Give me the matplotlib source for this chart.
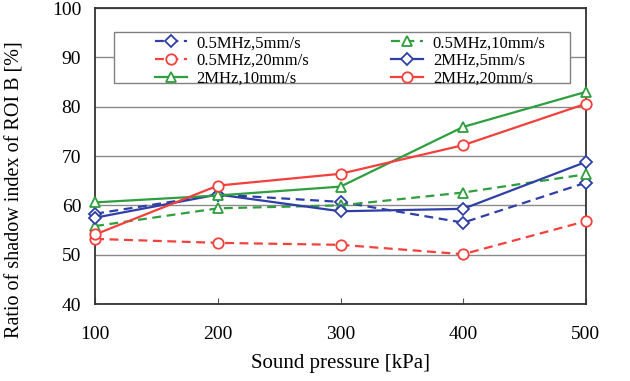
import numpy as np
import matplotlib
matplotlib.use("Agg")
import matplotlib.pyplot as plt
from matplotlib.patches import Rectangle

plt.rcParams['font.family'] = ['Liberation Serif', 'DejaVu Serif']

pressure = [100, 200, 300, 400, 500]

# 0.5MHz series (dashed)
mhz05_5 = [58.3, 62.2, 60.7, 56.5, 64.6]
mhz05_10 = [55.8, 59.4, 60.0, 62.6, 66.3]
mhz05_20 = [53.2, 52.4, 52.0, 50.1, 56.8]
# 2MHz series (solid)
mhz2_5 = [57.5, 62.2, 58.8, 59.3, 68.8]
mhz2_10 = [60.6, 62.0, 63.8, 75.9, 83.0]
mhz2_20 = [54.1, 64.0, 66.4, 72.2, 80.6]

labels = ["0.5MHz,5mm/s", "0.5MHz,10mm/s", "0.5MHz,20mm/s",
          "2MHz,5mm/s", "2MHz,10mm/s", "2MHz,20mm/s"]

blue = '#2f3fa6'
green = '#2e9e3e'
red = '#f2403c'

fig = plt.figure(figsize=(6.3, 3.81), dpi=100)
ax = fig.add_axes([0.151, 0.202, 0.779, 0.777])

mk = dict(markersize=7.5, markerfacecolor='white', markeredgewidth=1.3, lw=1.6, clip_on=False, zorder=4)
l1, = ax.plot(pressure, mhz05_5, ls=(0, (4, 2.5)), marker='D', color=blue, **dict(mk, markersize=6.5))
l2, = ax.plot(pressure, mhz05_10, ls=(0, (4, 2.5)), marker='^', color=green, **mk)
l3, = ax.plot(pressure, mhz05_20, ls=(0, (4, 2.5)), marker='o', color=red, **mk)
l4, = ax.plot(pressure, mhz2_5, ls='-', marker='D', color=blue, **dict(mk, markersize=6.5))
l5, = ax.plot(pressure, mhz2_10, ls='-', marker='^', color=green, **mk)
l6, = ax.plot(pressure, mhz2_20, ls='-', marker='o', color=red, **mk)

ax.set_xlim(100, 500)
ax.set_ylim(40, 100)
ax.set_xticks(pressure)
ax.set_yticks(np.arange(40, 101, 10))
ax.yaxis.grid(True, color='#8a8a8a', lw=1.0)
ax.set_axisbelow(True)
ax.tick_params(axis='x', direction='in', length=4, pad=16, labelsize=14, color='#555555')
ax.tick_params(axis='y', direction='in', length=0, pad=10, labelsize=14)
for s in ax.spines.values():
    s.set_color('#333333')
    s.set_linewidth(1.3)

ax.set_xlabel("Sound pressure [kPa]", fontsize=15, labelpad=8)
ax.set_ylabel("Ratio of shadow index of ROI B [%]", fontsize=14.5)
ax.yaxis.set_label_coords(-0.143, 0.387)

# legend box drawn separately so the entries can sit inset from its left edge
box = Rectangle((0.0387, 0.747), 0.928, 0.172, transform=ax.transAxes,
                facecolor='white', edgecolor='#808080', lw=1.0, zorder=3)
ax.add_patch(box)

handles = [l1, l3, l5, l2, l4, l6]
leg_labels = [labels[0], labels[2], labels[4], labels[1], labels[3], labels[5]]
leg = ax.legend(handles, leg_labels, ncol=2, loc='upper left',
                bbox_to_anchor=(0.122, 0.908), frameon=False, fontsize=12,
                borderpad=0, borderaxespad=0, labelspacing=0.1,
                handlelength=1.9, handletextpad=0.6, columnspacing=4.9)
leg.set_zorder(6)

fig.savefig("out.png", dpi=100)
